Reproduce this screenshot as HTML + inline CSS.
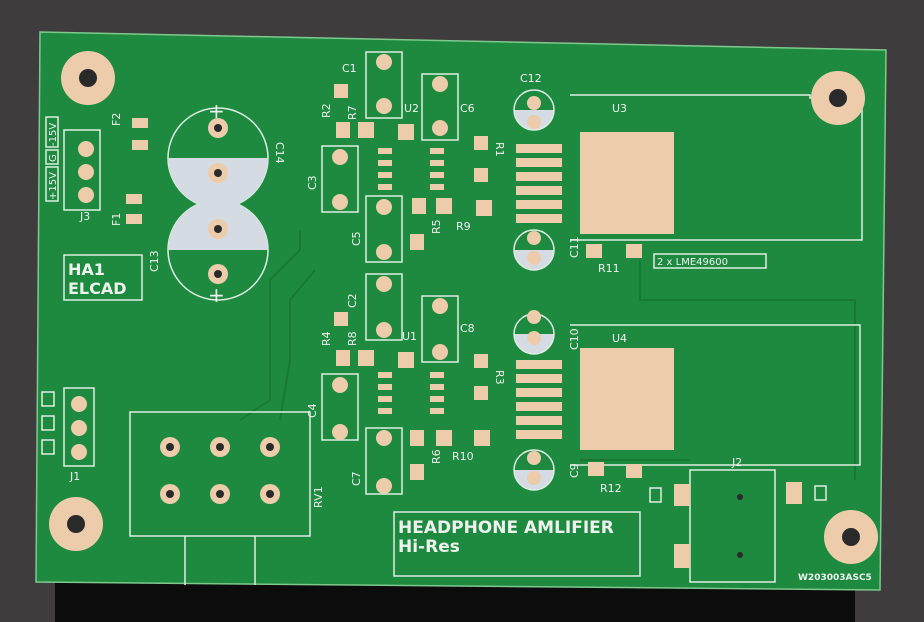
<!DOCTYPE html><html><head><style>html,body{margin:0;padding:0;background:#3b393a}svg{display:block}text{font-family:"DejaVu Sans","Liberation Sans",sans-serif;fill:#eef2ee}</style></head><body>
<svg width="924" height="622" viewBox="0 0 924 622" xmlns="http://www.w3.org/2000/svg">
<rect width="924" height="622" fill="#3e3c3d"/>
<rect x="55" y="580" width="800" height="42" fill="#0c0c0c"/>
<polygon points="40,32 886,50 880,590 36,582" fill="#1d8a40"/>
<polygon points="40,32 886,50 880,590 36,582" fill="none" stroke="#7fc98f" stroke-width="1.5"/>
<g fill="none" stroke="#177a33" stroke-width="2">
<path d="M300,230 L300,250 L270,280 L270,400 L240,420"/><path d="M315,270 L290,300 L290,360 L280,420"/>
<path d="M640,260 L640,300 L855,300 L855,480"/><path d="M580,460 L690,460"/>
</g>
<g fill="none" stroke="#dfeee0" stroke-width="1.5">
<path d="M570,95 L810,95 L810,98 L862,98 L862,240 L570,240"/>
<path d="M570,325 L860,325 L860,465 L570,465"/>
<rect x="130" y="412" width="180" height="124"/><path d="M185,536 V585 M255,536 V585"/>
<rect x="394" y="512" width="246" height="64"/>
<rect x="690" y="470" width="85" height="112"/>
<rect x="366" y="52" width="36" height="66"/><rect x="422" y="74" width="36" height="66"/>
<rect x="322" y="146" width="36" height="66"/><rect x="366" y="196" width="36" height="66"/>
<rect x="366" y="274" width="36" height="66"/><rect x="422" y="296" width="36" height="66"/>
<rect x="322" y="374" width="36" height="66"/><rect x="366" y="428" width="36" height="66"/>
<rect x="64" y="130" width="36" height="80"/><rect x="64" y="388" width="30" height="78"/>
<rect x="64" y="255" width="78" height="45"/>
<circle cx="218" cy="158" r="50"/><circle cx="218" cy="250" r="50"/>
<rect x="654" y="254" width="112" height="14"/>
<rect x="46" y="117" width="12" height="30"/><rect x="46" y="150" width="12" height="14"/><rect x="46" y="167" width="12" height="34"/>
<rect x="42" y="392" width="12" height="14"/><rect x="42" y="416" width="12" height="14"/><rect x="42" y="440" width="12" height="14"/>
<rect x="650" y="488" width="11" height="14"/><rect x="815" y="486" width="11" height="14"/>
</g>
<path d="M168,158 A50,50 0 0,0 268,158 Z" fill="#d5dbe3"/>
<path d="M168,250 A50,50 0 0,1 268,250 Z" fill="#d5dbe3"/>
<g fill="#d5dbe3">
<path d="M514,110 A20,20 0 0,0 554,110 Z"/><path d="M514,250 A20,20 0 0,0 554,250 Z"/>
<path d="M514,334 A20,20 0 0,0 554,334 Z"/><path d="M514,470 A20,20 0 0,0 554,470 Z"/>
</g>
<g fill="none" stroke="#dfeee0" stroke-width="1.5"><circle cx="534" cy="110" r="20"/><circle cx="534" cy="250" r="20"/><circle cx="534" cy="334" r="20"/><circle cx="534" cy="470" r="20"/></g>
<g fill="#ecccaa">
<circle cx="88" cy="78" r="27"/><circle cx="838" cy="98" r="27"/><circle cx="76" cy="524" r="27"/><circle cx="851" cy="537" r="27"/>
<rect x="580" y="132" width="94" height="102"/><rect x="580" y="348" width="94" height="102"/>
<rect x="516" y="144" width="46" height="9"/><rect x="516" y="158" width="46" height="9"/><rect x="516" y="172" width="46" height="9"/><rect x="516" y="186" width="46" height="9"/><rect x="516" y="200" width="46" height="9"/><rect x="516" y="214" width="46" height="9"/>
<rect x="516" y="360" width="46" height="9"/><rect x="516" y="374" width="46" height="9"/><rect x="516" y="388" width="46" height="9"/><rect x="516" y="402" width="46" height="9"/><rect x="516" y="416" width="46" height="9"/><rect x="516" y="430" width="46" height="9"/>
<rect x="132" y="118" width="16" height="10"/><rect x="132" y="140" width="16" height="10"/><rect x="126" y="194" width="16" height="10"/><rect x="126" y="214" width="16" height="10"/>
<rect x="334" y="84" width="14" height="14"/><rect x="336" y="122" width="14" height="16"/><rect x="358" y="122" width="16" height="16"/><rect x="398" y="124" width="16" height="16"/>
<rect x="474" y="136" width="14" height="14"/><rect x="474" y="168" width="14" height="14"/><rect x="412" y="198" width="14" height="16"/><rect x="436" y="198" width="16" height="16"/><rect x="476" y="200" width="16" height="16"/><rect x="410" y="234" width="14" height="16"/>
<rect x="334" y="312" width="14" height="14"/><rect x="336" y="350" width="14" height="16"/><rect x="358" y="350" width="16" height="16"/><rect x="398" y="352" width="16" height="16"/>
<rect x="474" y="354" width="14" height="14"/><rect x="474" y="386" width="14" height="14"/><rect x="410" y="430" width="14" height="16"/><rect x="436" y="430" width="16" height="16"/><rect x="474" y="430" width="16" height="16"/><rect x="410" y="464" width="14" height="16"/>
<rect x="586" y="244" width="16" height="14"/><rect x="626" y="244" width="16" height="14"/><rect x="588" y="462" width="16" height="14"/><rect x="626" y="464" width="16" height="14"/>
<rect x="674" y="484" width="16" height="22"/><rect x="786" y="482" width="16" height="22"/><rect x="674" y="544" width="16" height="24"/>
<rect x="378" y="148" width="14" height="6"/><rect x="378" y="160" width="14" height="6"/><rect x="378" y="172" width="14" height="6"/><rect x="378" y="184" width="14" height="6"/><rect x="430" y="148" width="14" height="6"/><rect x="430" y="160" width="14" height="6"/><rect x="430" y="172" width="14" height="6"/><rect x="430" y="184" width="14" height="6"/>
<rect x="378" y="372" width="14" height="6"/><rect x="378" y="384" width="14" height="6"/><rect x="378" y="396" width="14" height="6"/><rect x="378" y="408" width="14" height="6"/><rect x="430" y="372" width="14" height="6"/><rect x="430" y="384" width="14" height="6"/><rect x="430" y="396" width="14" height="6"/><rect x="430" y="408" width="14" height="6"/>
<circle cx="170" cy="447" r="10"/><circle cx="220" cy="447" r="10"/><circle cx="270" cy="447" r="10"/><circle cx="170" cy="494" r="10"/><circle cx="220" cy="494" r="10"/><circle cx="270" cy="494" r="10"/>
<circle cx="384" cy="62" r="8"/><circle cx="384" cy="106" r="8"/><circle cx="440" cy="84" r="8"/><circle cx="440" cy="128" r="8"/><circle cx="340" cy="157" r="8"/><circle cx="340" cy="202" r="8"/><circle cx="384" cy="207" r="8"/><circle cx="384" cy="252" r="8"/>
<circle cx="384" cy="284" r="8"/><circle cx="384" cy="330" r="8"/><circle cx="440" cy="306" r="8"/><circle cx="440" cy="352" r="8"/><circle cx="340" cy="385" r="8"/><circle cx="340" cy="432" r="8"/><circle cx="384" cy="438" r="8"/><circle cx="384" cy="486" r="8"/>
<circle cx="534" cy="103" r="7"/><circle cx="534" cy="122" r="7"/><circle cx="534" cy="238" r="7"/><circle cx="534" cy="258" r="7"/><circle cx="534" cy="317" r="7"/><circle cx="534" cy="338" r="7"/><circle cx="534" cy="458" r="7"/><circle cx="534" cy="478" r="7"/>
<circle cx="86" cy="149" r="8"/><circle cx="86" cy="172" r="8"/><circle cx="86" cy="195" r="8"/><circle cx="79" cy="404" r="8"/><circle cx="79" cy="428" r="8"/><circle cx="79" cy="452" r="8"/>
<circle cx="218" cy="128" r="10"/><circle cx="218" cy="173" r="10"/><circle cx="218" cy="229" r="10"/><circle cx="218" cy="274" r="10"/>
</g>
<g fill="#2a2a2a"><circle cx="88" cy="78" r="9"/><circle cx="838" cy="98" r="9"/><circle cx="76" cy="524" r="9"/><circle cx="851" cy="537" r="9"/>
<circle cx="170" cy="447" r="4"/><circle cx="220" cy="447" r="4"/><circle cx="270" cy="447" r="4"/><circle cx="170" cy="494" r="4"/><circle cx="220" cy="494" r="4"/><circle cx="270" cy="494" r="4"/>
<circle cx="740" cy="497" r="3"/><circle cx="740" cy="555" r="3"/>
<circle cx="218" cy="128" r="4"/><circle cx="218" cy="173" r="4"/><circle cx="218" cy="229" r="4"/><circle cx="218" cy="274" r="4"/></g>
<text x="398" y="533" font-size="17" font-weight="bold">HEADPHONE AMLIFIER</text>
<text x="398" y="552" font-size="17" font-weight="bold">Hi-Res</text>
<text x="68" y="275" font-size="16" font-weight="bold">HA1</text><text x="68" y="294" font-size="16" font-weight="bold">ELCAD</text>
<text x="657" y="265" font-size="10">2 x LME49600</text>
<text x="798" y="580" font-size="9" font-weight="bold">W203003ASC5</text>
<g font-size="11">
<text x="342" y="72">C1</text><text x="460" y="112">C6</text><text x="404" y="112">U2</text><text x="402" y="340">U1</text>
<text x="520" y="82">C12</text><text x="612" y="112">U3</text><text x="612" y="342">U4</text><text x="732" y="466">J2</text>
<text x="598" y="272">R11</text><text x="600" y="492">R12</text><text x="456" y="230">R9</text><text x="452" y="460">R10</text>
<text x="80" y="220">J3</text><text x="70" y="480">J1</text>
<text x="460" y="332">C8</text>
<text font-size="20" x="208" y="118">+</text><text font-size="20" x="208" y="302">+</text>
<g transform="translate(330,118) rotate(-90)"><text>R2</text></g>
<g transform="translate(356,120) rotate(-90)"><text>R7</text></g>
<g transform="translate(330,346) rotate(-90)"><text>R4</text></g>
<g transform="translate(356,346) rotate(-90)"><text>R8</text></g>
<g transform="translate(316,190) rotate(-90)"><text>C3</text></g>
<g transform="translate(316,418) rotate(-90)"><text>C4</text></g>
<g transform="translate(360,246) rotate(-90)"><text>C5</text></g>
<g transform="translate(356,308) rotate(-90)"><text>C2</text></g>
<g transform="translate(360,486) rotate(-90)"><text>C7</text></g>
<g transform="translate(440,234) rotate(-90)"><text>R5</text></g>
<g transform="translate(440,464) rotate(-90)"><text>R6</text></g>
<g transform="translate(496,142) rotate(90)"><text>R1</text></g>
<g transform="translate(496,370) rotate(90)"><text>R3</text></g>
<g transform="translate(578,258) rotate(-90)"><text>C11</text></g>
<g transform="translate(578,350) rotate(-90)"><text>C10</text></g>
<g transform="translate(578,478) rotate(-90)"><text>C9</text></g>
<g transform="translate(276,142) rotate(90)"><text>C14</text></g>
<g transform="translate(158,272) rotate(-90)"><text>C13</text></g>
<g transform="translate(120,126) rotate(-90)"><text>F2</text></g>
<g transform="translate(120,226) rotate(-90)"><text>F1</text></g>
<g transform="translate(322,508) rotate(-90)"><text>RV1</text></g>
<g transform="translate(56,146) rotate(-90)"><text font-size="10">-15V</text></g>
<g transform="translate(56,162) rotate(-90)"><text font-size="10">G</text></g>
<g transform="translate(56,200) rotate(-90)"><text font-size="10">+15V</text></g>
</g>
</svg></body></html>
